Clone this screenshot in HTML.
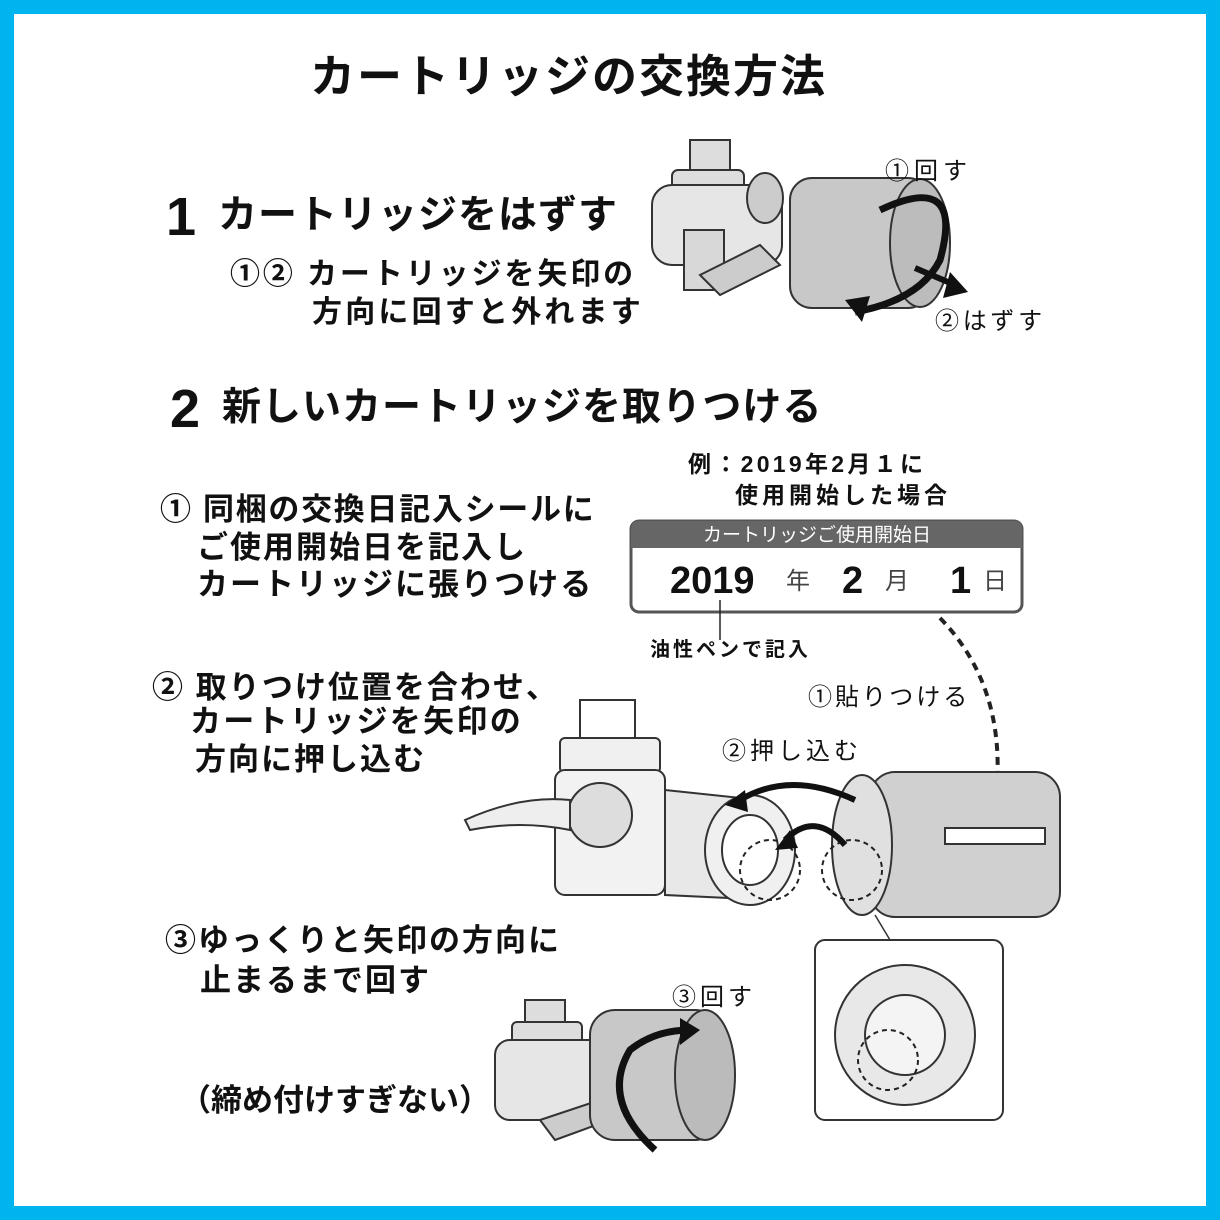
<!DOCTYPE html><html><head><meta charset="utf-8"><style>
*{margin:0;padding:0;box-sizing:border-box}
body{width:1220px;height:1220px;background:#fff;position:relative;overflow:hidden;font-family:"Liberation Sans","Noto Sans CJK JP",sans-serif}
.frame{position:absolute;left:0;top:0;width:1220px;height:1220px;border:14px solid #00b4f0}
.t{position:absolute;white-space:nowrap;font-weight:bold;color:#111;line-height:1}
.r{font-weight:normal}
svg{position:absolute;left:0;top:0}
</style></head><body>
<svg width="1220" height="1220" viewBox="0 0 1220 1220">
<g stroke="#333" stroke-width="2" fill="#ddd">
<rect x="690" y="140" width="40" height="40"/>
<rect x="672" y="170" width="72" height="40" rx="6"/>
<rect x="652" y="185" width="130" height="80" rx="20" fill="#e6e6e6"/>
<rect x="684" y="230" width="40" height="60" fill="#d8d8d8"/>
<path d="M700 275 L760 245 L780 265 L720 295z" fill="#ccc"/>
<ellipse cx="765" cy="198" rx="18" ry="25" fill="#ccc"/>
<rect x="790" y="178" width="140" height="130" rx="22" fill="#c8c8c8"/>
<ellipse cx="920" cy="243" rx="30" ry="64" fill="#bcbcbc"/>
</g>
<path d="M880 210 Q965 170 940 260 Q920 300 855 312" fill="none" stroke="#111" stroke-width="7"/>
<path d="M845 300 L862 322 L870 296z" fill="#111"/>
<path d="M915 268 L955 285" stroke="#111" stroke-width="6"/>
<path d="M950 272 L968 292 L943 298z" fill="#111"/>
<rect x="631" y="521" width="391" height="91" rx="8" fill="#fff" stroke="#555" stroke-width="3"/>
<path d="M631 548 L631 529 Q631 521 639 521 L1014 521 Q1022 521 1022 529 L1022 548z" fill="#666"/>
<line x1="720" y1="600" x2="720" y2="640" stroke="#222" stroke-width="1.5"/>
<path d="M940 618 Q1010 690 995 805" fill="none" stroke="#222" stroke-width="4" stroke-dasharray="8,6"/>
<path d="M982 800 L997 822 L1010 800z" fill="#111"/>
<g stroke="#333" stroke-width="2" fill="#e4e4e4">
<rect x="580" y="700" width="55" height="45" fill="#fff"/>
<rect x="560" y="738" width="100" height="35" rx="5" fill="#f0f0f0"/>
<rect x="555" y="770" width="110" height="125" rx="10" fill="#f2f2f2"/>
<path d="M665 790 L760 800 L770 900 L665 895z" fill="#e8e8e8"/>
<circle cx="600" cy="815" r="32" fill="#ddd"/>
<path d="M465 820 Q520 795 570 800 L570 830 Q520 820 470 830z" fill="#eee"/>
<ellipse cx="750" cy="850" rx="45" ry="55" fill="#f0f0f0"/>
<ellipse cx="750" cy="850" rx="28" ry="35" fill="#fff"/>
<rect x="870" y="772" width="190" height="145" rx="25" fill="#d0d0d0"/>
<ellipse cx="862" cy="845" rx="30" ry="70" fill="#e0e0e0"/>
<rect x="945" y="828" width="100" height="16" fill="#fff"/>
</g>
<circle cx="770" cy="870" r="30" fill="none" stroke="#222" stroke-width="2" stroke-dasharray="5,4"/>
<circle cx="852" cy="870" r="30" fill="none" stroke="#222" stroke-width="2" stroke-dasharray="5,4"/>
<path d="M855 800 Q790 770 740 800" fill="none" stroke="#111" stroke-width="6"/>
<path d="M745 790 L725 805 L748 812z" fill="#111"/>
<path d="M845 845 Q815 810 785 840" fill="none" stroke="#111" stroke-width="6"/>
<path d="M790 830 L775 850 L798 848z" fill="#111"/>
<line x1="875" y1="915" x2="890" y2="940" stroke="#333" stroke-width="1.5"/>
<rect x="815" y="940" width="188" height="180" rx="10" fill="#fff" stroke="#333" stroke-width="2"/>
<circle cx="905" cy="1035" r="70" fill="#e8e8e8" stroke="#333" stroke-width="2"/>
<circle cx="905" cy="1035" r="40" fill="#f4f4f4" stroke="#333" stroke-width="2"/>
<circle cx="888" cy="1060" r="30" fill="none" stroke="#222" stroke-width="2" stroke-dasharray="5,4"/>
<g stroke="#333" stroke-width="2" fill="#ddd">
<rect x="525" y="1000" width="40" height="30"/>
<rect x="512" y="1022" width="70" height="40" rx="5"/>
<rect x="495" y="1040" width="110" height="80" rx="15" fill="#e6e6e6"/>
<path d="M540 1120 L600 1100 L610 1120 L555 1140z" fill="#ccc"/>
<rect x="590" y="1010" width="130" height="130" rx="25" fill="#c8c8c8"/>
<ellipse cx="705" cy="1075" rx="30" ry="65" fill="#bbb"/>
</g>
<path d="M655 1150 Q600 1100 630 1050 Q655 1030 690 1030" fill="none" stroke="#111" stroke-width="7"/>
<path d="M680 1018 L700 1030 L680 1045z" fill="#111"/>
</svg>
<div class="frame"></div>
<div class="t" style="left:310px;top:54px;font-size:45px;letter-spacing:2px">カートリッジの交換方法</div>
<div class="t" style="left:166px;top:190px;font-size:54px">1</div>
<div class="t" style="left:218px;top:196px;font-size:39px;letter-spacing:1px">カートリッジをはずす</div>
<div class="t" style="left:230px;top:260px;font-size:30px;letter-spacing:2.9px">①② カートリッジを矢印の</div>
<div class="t" style="left:312px;top:298px;font-size:30px;letter-spacing:3.2px">方向に回すと外れます</div>
<div class="t r" style="left:885px;top:160px;font-size:24px;letter-spacing:5px">①回す</div>
<div class="t r" style="left:935px;top:310px;font-size:24px;letter-spacing:3.7px">②はずす</div>
<div class="t" style="left:170px;top:382px;font-size:54px">2</div>
<div class="t" style="left:222px;top:388px;font-size:39px;letter-spacing:1px">新しいカートリッジを取りつける</div>
<div class="t" style="left:688px;top:453px;font-size:23px;letter-spacing:3.3px">例：2019年2月１に</div>
<div class="t" style="left:735px;top:484px;font-size:23px;letter-spacing:4px">使用開始した場合</div>
<div class="t r" style="left:703px;top:526px;font-size:19px;color:#fff">カートリッジご使用開始日</div>
<div class="t" style="left:670px;top:562px;font-size:38px">2019</div>
<div class="t r" style="left:786px;top:570px;font-size:24px;color:#444">年</div>
<div class="t" style="left:842px;top:562px;font-size:38px">2</div>
<div class="t r" style="left:885px;top:570px;font-size:24px;color:#444">月</div>
<div class="t" style="left:950px;top:562px;font-size:38px">1</div>
<div class="t r" style="left:983px;top:570px;font-size:24px;color:#444">日</div>
<div class="t" style="left:650px;top:640px;font-size:20px;letter-spacing:3px">油性ペンで記入</div>
<div class="t" style="left:160px;top:494px;font-size:31px;letter-spacing:1.7px">① 同梱の交換日記入シールに</div>
<div class="t" style="left:197px;top:532px;font-size:31px;letter-spacing:2px">ご使用開始日を記入し</div>
<div class="t" style="left:197px;top:569px;font-size:31px;letter-spacing:2px">カートリッジに張りつける</div>
<div class="t" style="left:152px;top:672px;font-size:31px;letter-spacing:2px">② 取りつけ位置を合わせ、</div>
<div class="t" style="left:190px;top:706px;font-size:31px;letter-spacing:2.3px">カートリッジを矢印の</div>
<div class="t" style="left:195px;top:744px;font-size:31px;letter-spacing:2px">方向に押し込む</div>
<div class="t r" style="left:808px;top:686px;font-size:24px;letter-spacing:3px">①貼りつける</div>
<div class="t r" style="left:722px;top:740px;font-size:24px;letter-spacing:4px">②押し込む</div>
<div class="t" style="left:165px;top:925px;font-size:31px;letter-spacing:2px">③ゆっくりと矢印の方向に</div>
<div class="t" style="left:200px;top:965px;font-size:31px;letter-spacing:2px">止まるまで回す</div>
<div class="t r" style="left:672px;top:986px;font-size:24px;letter-spacing:4px">③回す</div>
<div class="t" style="left:180px;top:1085px;font-size:31px">（締め付けすぎない）</div>
</body></html>
